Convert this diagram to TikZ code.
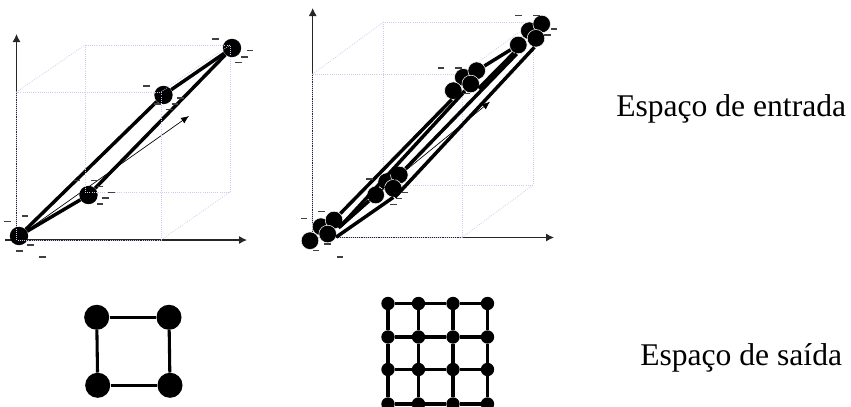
\documentclass[tikz,border=0pt]{standalone}
\usepackage{fontspec}
\usepackage{xcolor}
\usetikzlibrary{arrows.meta}
\setmainfont{Liberation Serif}
\definecolor{cubeline}{RGB}{204,204,236}
\tikzset{
  blob/.style={circle,fill=black,draw=none,inner sep=0pt,minimum size=13.8pt},
  blobw/.style={circle,fill=black,draw=white,line width=0.4pt,inner sep=0pt,minimum size=13.2pt},
  bigblob/.style={circle,fill=black,inner sep=0pt,minimum size=18.8pt},
  smallblob/.style={circle,fill=black,inner sep=0pt,minimum size=10pt},
  wire/.style={line width=2.6pt,black},
  gridwire/.style={line width=2.3pt,black},
  cube/.style={cubeline,line width=0.6pt,densely dotted},
  axis/.style={line width=0.8pt,black!85,-{Latex[length=6pt,width=6pt]}},
  thinarrow/.style={line width=0.5pt,black,-{Latex[length=6pt,width=5pt]}},
  minusmark/.style={fill=black!75,inner sep=0pt,minimum width=5pt,minimum height=0.8pt},
  caption/.style={anchor=base west,font=\fontsize{23.7}{28}\selectfont,inner sep=0pt}
}
\begin{document}
\begin{tikzpicture}[x=0.75pt,y=-0.75pt]
\useasboundingbox (0,0) rectangle (851,407);
% entrada, esquerda
\coordinate (oL) at (16.5,240);
\coordinate (yL) at (16.5,34);
\coordinate (xL) at (247,240);
\coordinate (xL0) at (5,240);
\coordinate (tipL) at (189,116);
\draw[axis] (oL) -- (yL);
\draw[axis] (xL0) -- (xL);
\node[blob] (a) at (19,236) {};
\node[blob] (b) at (88.5,195) {};
\node[blob] (c) at (163.5,95) {};
\node[blob] (d) at (232,48) {};
\draw[wire] (a) -- (c);
\draw[wire] (c) -- (d);
\draw[wire] (d) -- (b);
\draw[wire] (b) -- (a);
\draw[thinarrow] (a) -- (tipL);
\draw[cube] (85,45) rectangle (230,192);
\draw[cube] (16.5,92) rectangle (161,240);
\draw[cube] (16.5,92) -- (85,45);
\draw[cube] (161,92) -- (230,45);
\draw[cube] (161,240) -- (230,192);
% tracinhos
\node[minusmark] (m1) at (215.3,39) {};
\node[minusmark] (m2) at (250,50.7) {};
\node[minusmark] (m3) at (244.3,57) {};
\node[minusmark] (m4) at (238.3,62.3) {};
\node[minusmark] (m5) at (146.3,86) {};
\node[minusmark] (m6) at (180.7,98) {};
\node[minusmark] (m7) at (175,104) {};
\node[minusmark] (m8) at (169.3,109.7) {};
\node[minusmark] (m9) at (157.7,104) {};
\node[minusmark] (m10) at (77,180.3) {};
\node[minusmark] (m11) at (94.3,180.3) {};
\node[minusmark] (m12) at (100,186.7) {};
\node[minusmark] (m13) at (111.7,192.3) {};
\node[minusmark] (m14) at (105.7,198) {};
\node[minusmark] (m15) at (100,204) {};
\node[minusmark] (m16) at (7.7,221.7) {};
\node[minusmark] (m17) at (25,216) {};
\node[minusmark] (m18) at (30.7,245) {};
\node[minusmark] (m19) at (19.3,251) {};
\node[minusmark] (m20) at (42.3,257) {};
% entrada, direita
\coordinate (oR) at (312.7,240);
\coordinate (yR) at (312.7,8);
\coordinate (xR) at (554,237.5);
\coordinate (xR0) at (312.7,237.5);
\coordinate (tipR) at (490,101.7);
\draw[axis] (oR) -- (yR);
\draw[axis] (xR0) -- (xR);
\draw[cube] (383.5,22) rectangle (533,185);
\draw[cube] (312.7,74) rectangle (462,237.5);
\draw[cube] (312.7,74) -- (383.5,22);
\draw[cube] (462,74) -- (533,22);
\draw[cube] (462,237.5) -- (533,185);
\node[blobw] (p1) at (321,226.7) {};
\node[blobw] (p2) at (310,240.7) {};
\node[blobw] (p3) at (334,220) {};
\node[blobw] (p4) at (327.7,234) {};
\node[blobw] (q1) at (386.7,181.7) {};
\node[blobw] (q2) at (375.7,195) {};
\node[blobw] (q3) at (399.3,175) {};
\node[blobw] (q4) at (393.3,188.3) {};
\node[blobw] (r1) at (463.3,77.3) {};
\node[blobw] (r2) at (453.3,90.7) {};
\node[blobw] (r3) at (476.7,70.7) {};
\node[blobw] (r4) at (470.7,84) {};
\node[blobw] (s1) at (529.3,30.7) {};
\node[blobw] (s2) at (518.3,45) {};
\node[blobw] (s3) at (541.7,24) {};
\node[blobw] (s4) at (536,38.3) {};
\draw[wire] (p3) -- (r2.-100);
\draw[wire] (p3.-45) -- (r4.-130);
\draw[wire] (p3.-60) -- (q2);
\draw[wire] (p4.-20) -- (q4.-90);
\draw[wire] (q3) -- (s2.-100);
\draw[wire] (q4.-80) -- (s4.-100);
\draw[wire] (r3) -- (s2);
\draw[wire] (r4.-30) -- (s2.-120);
\draw[thinarrow] (p4) -- (tipR);
% tracinhos
\node[minusmark] (n1) at (518.3,15.7) {};
\node[minusmark] (n2) at (536.7,15.7) {};
\node[minusmark] (n3) at (554,29) {};
\node[minusmark] (n4) at (547.7,35) {};
\node[minusmark] (n5) at (441,68) {};
\node[minusmark] (n6) at (458.3,68) {};
\node[minusmark] (n7) at (466.7,93.3) {};
\node[minusmark] (n8) at (369.3,179) {};
\node[minusmark] (n9) at (405,192.3) {};
\node[minusmark] (n10) at (399,198.3) {};
\node[minusmark] (n11) at (393.3,204.7) {};
\node[minusmark] (n12) at (304,218.3) {};
\node[minusmark] (n13) at (321.7,211.7) {};
\node[minusmark] (n14) at (316,250.7) {};
\node[minusmark] (n15) at (340,257) {};
\node[minusmark] (n16) at (327.3,244) {};
% saida, quadrado
\node[bigblob] (sa) at (96.7,317.3) {};
\node[bigblob] (sb) at (169,317.3) {};
\node[bigblob] (sc) at (97.7,385.3) {};
\node[bigblob] (sd) at (170,385.3) {};
\draw[gridwire] (sa) -- (sb);
\draw[gridwire] (sb) -- (sd);
\draw[gridwire] (sd) -- (sc);
\draw[gridwire] (sc) -- (sa);
% saida, grade
\node[smallblob] (g11) at (388,303.5) {};
\node[smallblob] (g12) at (418.5,303.5) {};
\node[smallblob] (g13) at (453,303.5) {};
\node[smallblob] (g14) at (487.5,303.5) {};
\node[smallblob] (g21) at (388,337) {};
\node[smallblob] (g22) at (418.5,337) {};
\node[smallblob] (g23) at (453,337) {};
\node[smallblob] (g24) at (487.5,337) {};
\node[smallblob] (g31) at (388,369.5) {};
\node[smallblob] (g32) at (418.5,369.5) {};
\node[smallblob] (g33) at (453,369.5) {};
\node[smallblob] (g34) at (487.5,369.5) {};
\node[smallblob] (g41) at (388,404) {};
\node[smallblob] (g42) at (418.5,404) {};
\node[smallblob] (g43) at (453,404) {};
\node[smallblob] (g44) at (487.5,404) {};
\draw[gridwire] (g11) -- (g12);
\draw[gridwire] (g12) -- (g13);
\draw[gridwire] (g13) -- (g14);
\draw[gridwire] (g21) -- (g22);
\draw[gridwire] (g22) -- (g23);
\draw[gridwire] (g23) -- (g24);
\draw[gridwire] (g31) -- (g32);
\draw[gridwire] (g32) -- (g33);
\draw[gridwire] (g33) -- (g34);
\draw[gridwire] (g41) -- (g42);
\draw[gridwire] (g42) -- (g43);
\draw[gridwire] (g43) -- (g44);
\draw[gridwire] (g11) -- (g21);
\draw[gridwire] (g21) -- (g31);
\draw[gridwire] (g31) -- (g41);
\draw[gridwire] (g12) -- (g22);
\draw[gridwire] (g22) -- (g32);
\draw[gridwire] (g32) -- (g42);
\draw[gridwire] (g13) -- (g23);
\draw[gridwire] (g23) -- (g33);
\draw[gridwire] (g33) -- (g43);
\draw[gridwire] (g14) -- (g24);
\draw[gridwire] (g24) -- (g34);
\draw[gridwire] (g34) -- (g44);
% textos
\node[caption] (ent) at (616,116.7) {Espaço de entrada};
\node[caption] (sai) at (640,365) {Espaço de saída};
\end{tikzpicture}
\end{document}
